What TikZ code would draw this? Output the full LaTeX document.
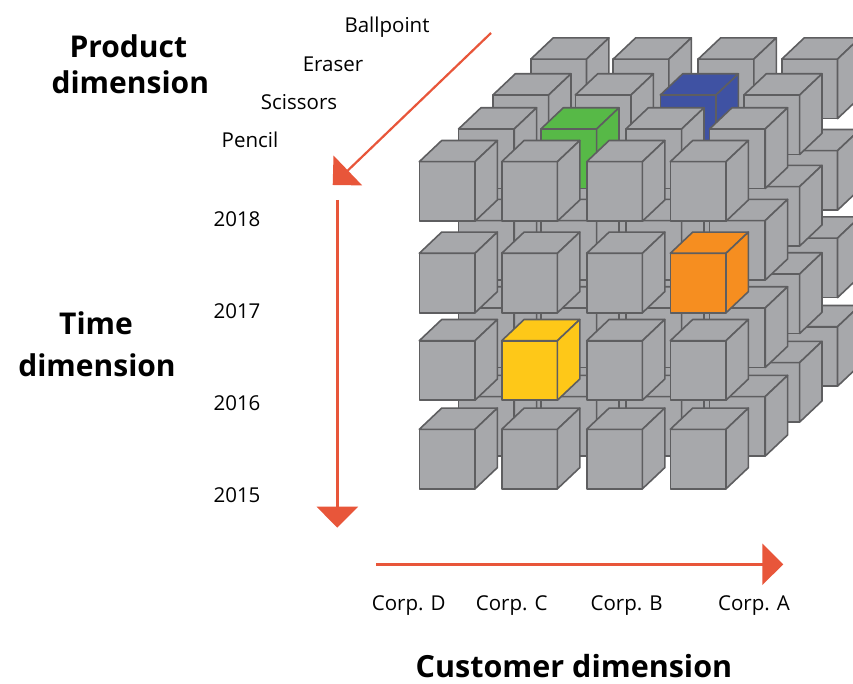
\documentclass[tikz,border=0pt]{standalone}
\usepackage{fontspec}
\setmainfont{Open Sans}
\usetikzlibrary{arrows.meta}

\definecolor{cgrey}{RGB}{167,168,171}
\definecolor{cedge}{RGB}{94,94,96}
\definecolor{cgreen}{RGB}{87,185,71}
\definecolor{cblue}{RGB}{63,82,163}
\definecolor{corange}{RGB}{246,142,32}
\definecolor{cyellow}{RGB}{254,200,24}
\definecolor{caxis}{RGB}{232,86,58}

\begin{document}
\begin{tikzpicture}[x=1pt,y=-1pt,
  cubeface/.style={draw=cedge, line width=1.6pt, line join=round, fill=cgrey},
  % highlighted cells: layer-column-row
  hl-1-2-1/.style={fill=cgreen},
  hl-2-3-1/.style={fill=cblue},
  hl-0-4-2/.style={fill=corange},
  hl-0-2-3/.style={fill=cyellow},
  axis/.style={draw=caxis, line width=2.6pt, -{Triangle[length=21pt,width=41pt,fill=caxis]}},
  lbl/.style={font=\fontsize{20.5}{24}\selectfont, anchor=base, inner sep=0pt},
  title/.style={font=\fontsize{30}{36}\selectfont\bfseries, anchor=base, inner sep=0pt}]
\useasboundingbox (0,0) rectangle (853,684);

% data cube: four layers drawn from back to front
\begin{scope}
\clip (0,0) rectangle (853,684);
\foreach \L/\ox/\oy in {3/111.5/-102.6,2/73.6/-66.7,1/39.2/-32.7,0/0/0}{
  \foreach \c/\cx in {1/419.3,2/501.7,3/586.7,4/670.3}{
    \foreach \r/\ry in {1/161.7,2/253.3,3/340.7,4/429.3}{
      \begin{scope}[shift={(\cx+\ox,\ry+\oy)}]
        \path[cubeface, hl-\L-\c-\r/.try] (0,0) rectangle (55.7,59.5);
        \path[cubeface, hl-\L-\c-\r/.try] (0,0) -- (22.4,-21.2) -- (78.1,-21.2) -- (55.7,0) -- cycle;
        \path[cubeface, hl-\L-\c-\r/.try] (55.7,0) -- (78.1,-21.2) -- (78.1,38.3) -- (55.7,59.5) -- cycle;
      \end{scope}
    }
  }
}
\end{scope}

% axes
\coordinate (pstart) at (491,33);
\coordinate (ptip) at (332.7,185);
\coordinate (tstart) at (337.3,200);
\coordinate (ttip) at (337.3,527.7);
\coordinate (cstart) at (376,564.3);
\coordinate (ctip) at (783.3,564.3);
\draw[axis, line width=2.2pt] (pstart) -- (ptip);
\draw[axis] (tstart) -- (ttip);
\draw[axis] (cstart) -- (ctip);

% dimension titles
\node[title] (prodA) at (128.3,57.3) {Product};
\node[title] (prodB) at (130.3,94) {dimension};
\node[title] (timeA) at (96,334.3) {Time};
\node[title] (timeB) at (97,376) {dimension};
\node[title, font=\fontsize{30.5}{36}\selectfont\bfseries] (cust) at (574,677.5) {Customer dimension};

% product members
\node[lbl] (ball) at (387,33) {Ballpoint};
\node[lbl] (eras) at (333,71.5) {Eraser};
\node[lbl] (scis) at (299,110) {Scissors};
\node[lbl] (penc) at (250,148) {Pencil};

% years
\node[lbl] (y18) at (237,226.7) {2018};
\node[lbl] (y17) at (237,318) {2017};
\node[lbl] (y16) at (237,410) {2016};
\node[lbl] (y15) at (237,502) {2015};

% customers
\node[lbl] (cD) at (408.7,610.7) {Corp. D};
\node[lbl] (cC) at (511.7,610.7) {Corp. C};
\node[lbl] (cB) at (626.7,610.7) {Corp. B};
\node[lbl] (cA) at (754,610.7) {Corp. A};
\end{tikzpicture}
\end{document}
